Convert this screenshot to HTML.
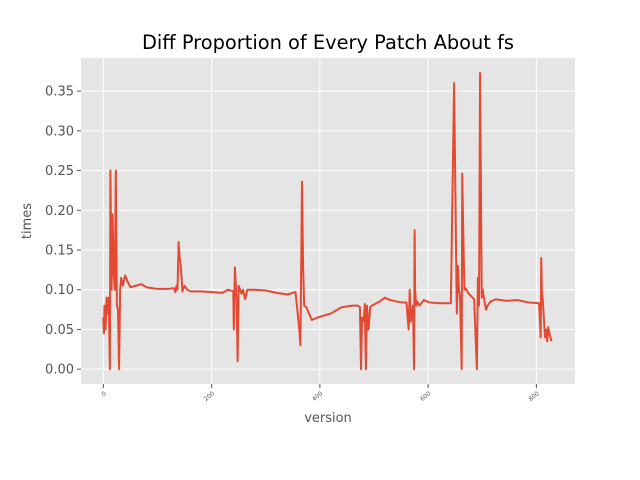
<!DOCTYPE html>
<html><head><meta charset="utf-8"><style>
body{margin:0;background:#fff;}
svg{display:block;font-family:"DejaVu Sans","Liberation Sans",sans-serif;}
</style></head><body>
<svg id="chart" width="640" height="480">
<text x="328" y="49" text-anchor="middle" font-size="19.4" fill="#000">Diff Proportion of Every Patch About fs</text>
<rect x="81" y="58" width="494" height="326" fill="#E5E5E5"/>
<g id="grid"></g><g id="ticks"></g>
<path id="line" fill="none" stroke="#E24A33" stroke-width="2" stroke-linejoin="round"/>
<text x="328" y="422" text-anchor="middle" font-size="13" fill="#555">version</text>
<text transform="translate(31,221) rotate(-90)" text-anchor="middle" font-size="13" fill="#555">times</text>
</svg>
<script>
const versions=[0,1,2,4,6,8,10,12,13,15,17,19,21,23,25,27,29,31,33,36,40,45,50,60,70,80,100,120,130,133,135,137,139,141,143,146,150,155,160,180,200,220,230,240,241,243,246,248,250,255,258,262,266,280,300,320,340,355,362,364,367,369,371,375,380,385,400,420,440,460,470,474,476,478,481,483,485,487,490,493,496,510,520,530,550,560,564,566,568,572,574,575,576,578,580,584,592,602,622,642,648,653,655,657,659,662,663,665,667,669,675,685,690,692,694,696,699,701,703,707,710,715,725,745,765,785,805,808,809,810,812,816,818,820,822,824,826,828,830];
const values=[0.065,0.045,0.08,0.05,0.09,0.07,0.09,0.0,0.25,0.10,0.195,0.12,0.10,0.25,0.08,0.075,0.0,0.10,0.115,0.105,0.118,0.11,0.103,0.105,0.107,0.103,0.101,0.101,0.102,0.097,0.105,0.100,0.16,0.14,0.13,0.098,0.105,0.10,0.098,0.098,0.097,0.096,0.100,0.098,0.05,0.128,0.09,0.01,0.105,0.095,0.10,0.088,0.10,0.10,0.099,0.096,0.094,0.097,0.05,0.03,0.236,0.13,0.08,0.078,0.07,0.062,0.066,0.07,0.078,0.08,0.08,0.078,0.0,0.065,0.06,0.082,0.0,0.08,0.05,0.078,0.08,0.085,0.09,0.087,0.084,0.084,0.05,0.10,0.06,0.08,0.0,0.175,0.10,0.08,0.085,0.08,0.087,0.084,0.083,0.083,0.36,0.07,0.13,0.10,0.09,0.0,0.246,0.17,0.10,0.102,0.095,0.088,0.0,0.115,0.08,0.373,0.09,0.10,0.09,0.075,0.08,0.085,0.088,0.086,0.087,0.084,0.083,0.04,0.14,0.10,0.085,0.04,0.05,0.035,0.053,0.045,0.04,0.035];
const xTicks=[0,200,400,600,800];
const yTicks=[0,0.05,0.10,0.15,0.20,0.25,0.30,0.35];
const yTickLabels=["0.00","0.05","0.10","0.15","0.20","0.25","0.30","0.35"];
const X0=81,X1=575,Y0=58,Y1=384,xmin=-41.35,xmax=871.35,ymin=-0.01865,ymax=0.39165;
function sx(v){return X0+(v-xmin)/(xmax-xmin)*(X1-X0);}
function sy(v){return Y1-(v-ymin)/(ymax-ymin)*(Y1-Y0);}
const NS="http://www.w3.org/2000/svg";
const grid=document.getElementById('grid'),ticks=document.getElementById('ticks');
function mk(tag,attrs,parent){const e=document.createElementNS(NS,tag);for(const k in attrs)e.setAttribute(k,attrs[k]);parent.appendChild(e);return e;}
xTicks.forEach(t=>{const x=sx(t);
 const g=mk('line',{x1:x,x2:x,y1:Y0,y2:Y1,stroke:'#fff','stroke-width':1},grid);
 
 
 const tk=mk('line',{x1:x,x2:x,y1:Y1,y2:Y1+4,stroke:'#555','stroke-width':1},ticks);
 
 
 const tx=mk('text',{x:0,y:0,'font-size':6,fill:'#555','text-anchor':'end',transform:`translate(${x+3},${Y1+10}) rotate(-40)`},ticks);
 tx.textContent=String(t);
 
 
});
yTicks.forEach((t,i)=>{const y=sy(t);
 const g=mk('line',{x1:X0,x2:X1,y1:y,y2:y,stroke:'#fff','stroke-width':1},grid);
 
 
 const tk=mk('line',{x1:X0-4,x2:X0,y1:y,y2:y,stroke:'#555','stroke-width':1},ticks);
 
 
 const tx=mk('text',{x:X0-7,y:y+4.5,'font-size':13,fill:'#555','text-anchor':'end'},ticks);
 tx.textContent=yTickLabels[i];
 
 
});
let d='';versions.forEach((v,i)=>{d+=(i?'L':'M')+sx(v).toFixed(2)+','+sy(values[i]).toFixed(2);});
document.getElementById('line').setAttribute('d',d);
</script>
</body></html>
